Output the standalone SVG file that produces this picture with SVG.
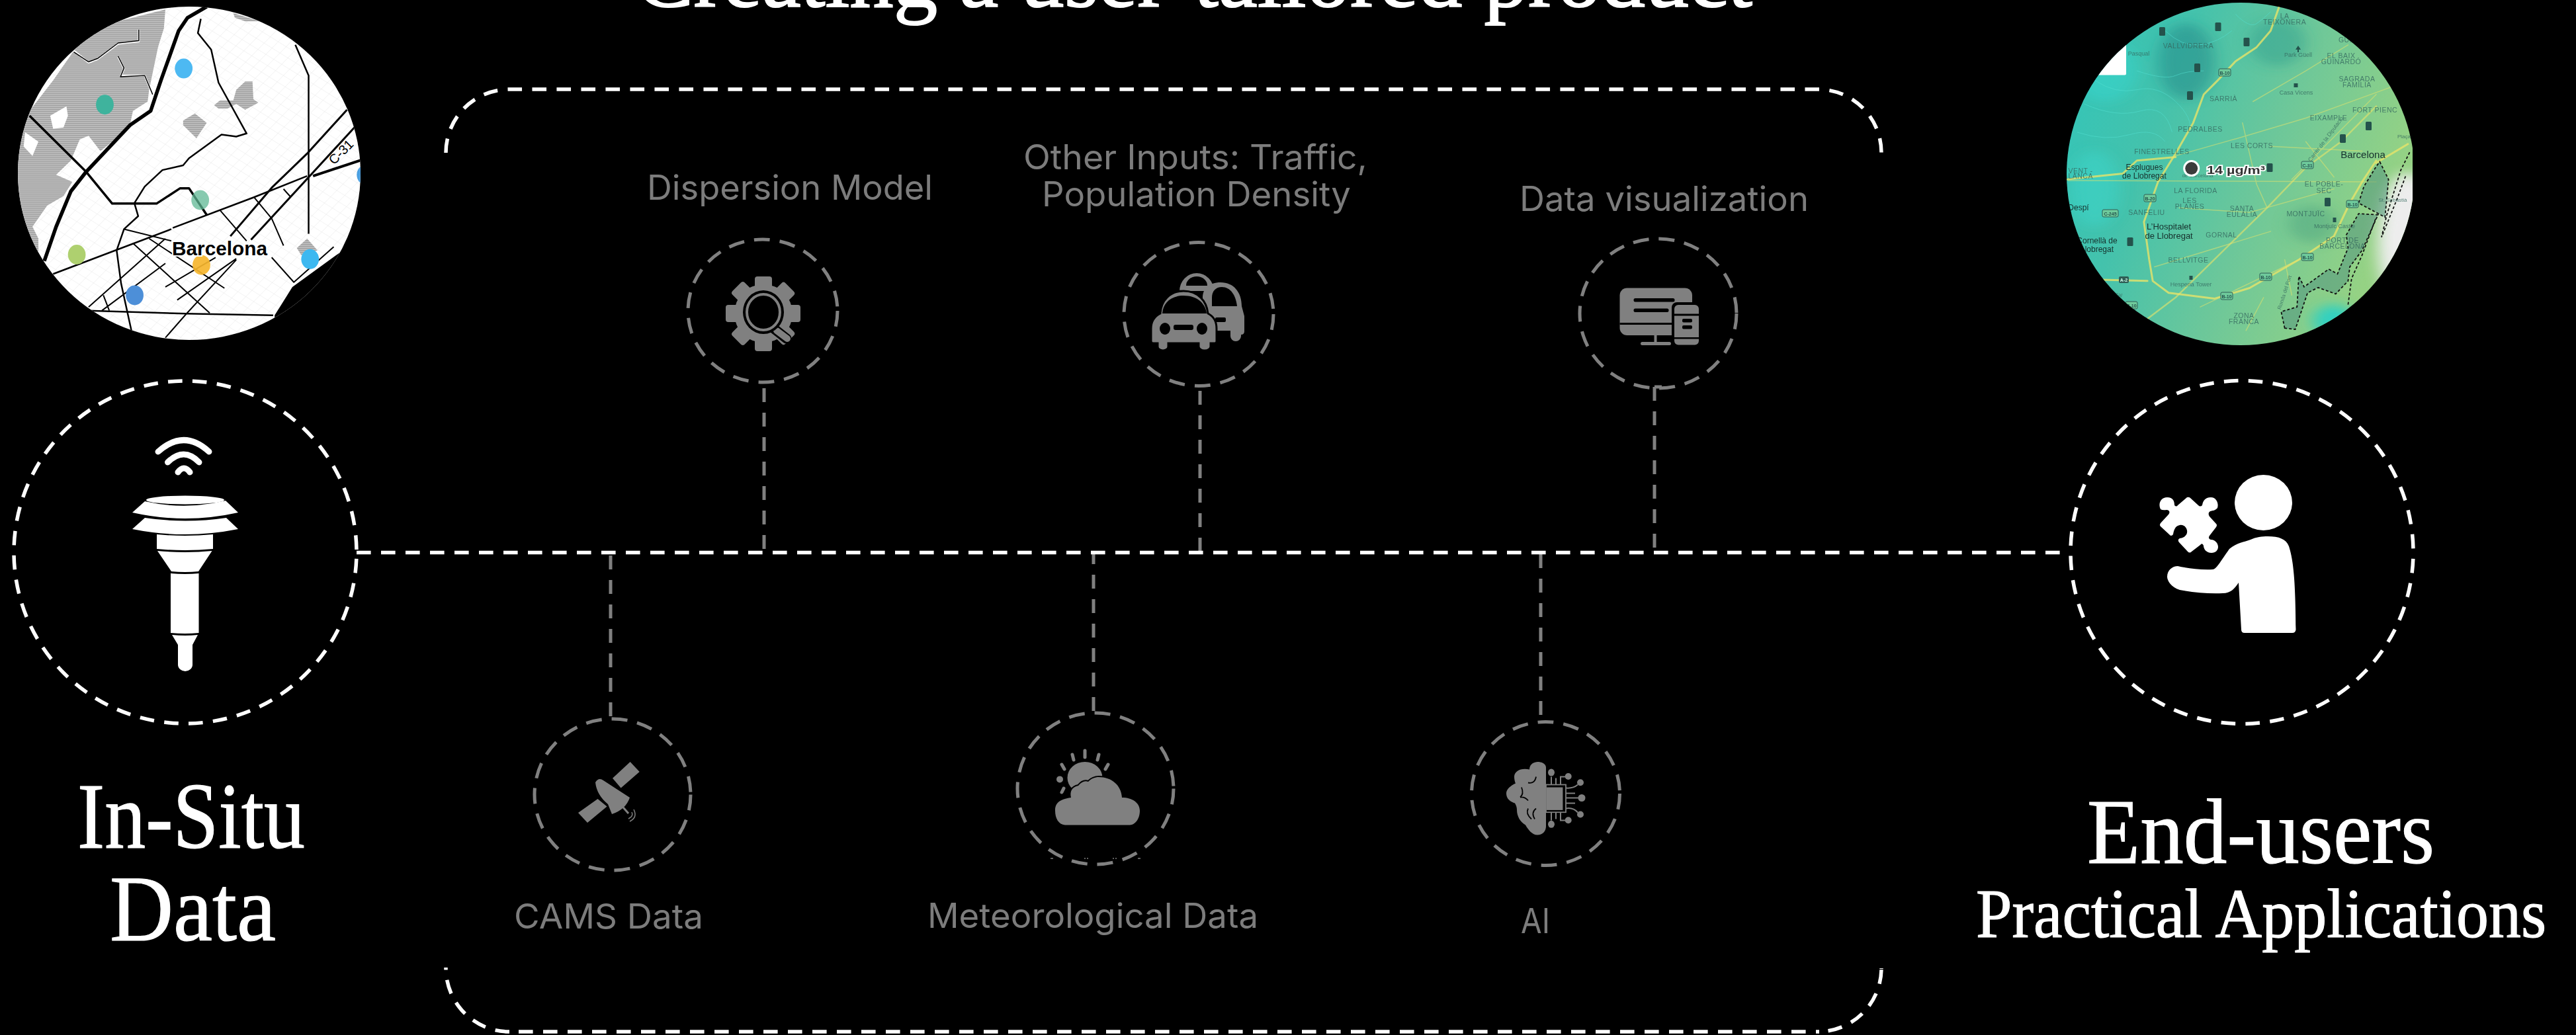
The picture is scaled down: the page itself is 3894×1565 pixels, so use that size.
<svg xmlns="http://www.w3.org/2000/svg" width="3894" height="1565" viewBox="0 0 3894 1565">
<style>
.w{fill:none;stroke:#fff;stroke-width:5.5;stroke-dasharray:21.6 15.4}
.g{fill:none;stroke:#808080;stroke-width:5;stroke-dasharray:24 15}
.gv{fill:none;stroke:#808080;stroke-width:5;stroke-dasharray:21 16}
.i{fill:#808080}
.k{fill:#000}
.lab{font-family:"Inter","Liberation Sans",sans-serif;font-weight:400;fill:#7c7c7c;font-size:52px}
.ser{font-family:"Liberation Serif",serif;fill:#fff;stroke:#fff;stroke-width:1.2}
.r{fill:none;stroke:#000;vector-effect:non-scaling-stroke;stroke-linejoin:round}
.y{fill:none;stroke:#e8e46a;vector-effect:non-scaling-stroke;stroke-linecap:round;stroke-linejoin:round}
.c{fill:none;stroke:#55e0d2;stroke-width:1;opacity:.55;vector-effect:non-scaling-stroke}
.m{font-family:"Liberation Sans",sans-serif;font-size:10.5px;fill:#35685f;letter-spacing:.5px;text-anchor:middle;opacity:.8}
.d{font-family:"Liberation Sans",sans-serif;font-size:13px;fill:#16302c;text-anchor:middle}
.b{fill:#24524c}
.sg{fill:#6fcb9c;stroke:#2e5d55;stroke-width:1}
.st{font-family:"Liberation Sans",sans-serif;font-size:7px;fill:#24524c;text-anchor:middle;font-weight:bold}
</style>
<defs>
<clipPath id="lc"><ellipse cx="286" cy="262" rx="259" ry="252"/></clipPath>
<clipPath id="rc"><ellipse cx="3387" cy="263" rx="263" ry="259"/></clipPath>
<clipPath id="rr"><rect x="3100" y="0" width="547" height="540"/></clipPath>
<pattern id="hatch" patternUnits="userSpaceOnUse" width="3" height="3" patternTransform="scale(2.24 2.8)"><rect width="3" height="3" fill="#c2c2c2"/><rect width="3" height="1.500" fill="#a0a0a0"/></pattern>
<pattern id="mesh" patternUnits="userSpaceOnUse" width="34" height="34" patternTransform="rotate(38)"><path d="M0 0H34M0 0V34" stroke="#dedede" stroke-width="1.6" fill="none"/></pattern>
<linearGradient id="tg" x1="0" y1="0" x2="1" y2="0.35"><stop offset="0" stop-color="#2fc6bc"/><stop offset=".35" stop-color="#44c2ac"/><stop offset=".65" stop-color="#6cc79a"/><stop offset="1" stop-color="#95d284"/></linearGradient>
<filter id="bl" x="-50%" y="-50%" width="200%" height="200%"><feGaussianBlur stdDeviation="22"/></filter>
</defs>
<rect width="3894" height="1565" fill="#000"/>

<g id="connectors">
<path class="gv" d="M1155 587V835"/>
<path class="gv" d="M1814 591V835"/>
<path class="gv" d="M2501 585V835"/>
<path class="gv" d="M2501 585H2512"/>
<path class="gv" d="M923 1083V835"/>
<path class="gv" d="M1653 1075V835"/>
<path class="gv" d="M2329 1081V835"/>
<path class="w" d="M539 835.5H3128"/>
</g>

<g id="frame">
<path class="w" d="M674 231A96 96 0 0 1 770 135H2748A96 96 0 0 1 2844 231"/>
<path class="w" d="M770 1560A96 96 0 0 1 674 1464V1463"/>
<path class="w" d="M784 1560H2750"/>
<path class="w" style="stroke-dashoffset:21.4" d="M2748 1560A96 96 0 0 0 2844 1464"/>
<path class="w" style="stroke-dasharray:none" d="M2844 1464V1465"/>
</g>

<text id="title" class="ser" x="960" y="10" font-size="132" textLength="1689" lengthAdjust="spacingAndGlyphs" style="stroke-width:2">Creating a user-tailored product</text>

<g id="map-left" clip-path="url(#lc)">
<rect x="20" y="0" width="530" height="520" fill="#fff"/>
<g transform="scale(.44643 .35714)">
<rect x="40" y="0" width="1200" height="1460" fill="url(#mesh)"/>
<path fill="url(#hatch)" d="M250 215L300 150L400 90L560 40L555 120L535 200L505 380L500 430L450 470L440 530L380 600L340 640L300 575L270 590L240 680L190 740L245 770L215 830L160 870L110 960L130 1010L130 1100L60 1000L50 700L60 560L100 470L180 340Z"/>
<path fill="#fff" d="M170 490L225 450L230 490L215 540L180 545Z"/>
<path fill="#fff" d="M85 560L130 600L110 660L80 620Z"/>
<path fill="url(#hatch)" d="M800 380L830 345L855 345L858 420L875 435L830 465L800 440L770 460L740 460L725 445L745 425L790 425Z"/>
<path fill="url(#hatch)" d="M620 510L660 480L700 520L665 585L620 530Z"/>
<path fill="url(#hatch)" d="M790 55L880 90L830 90L795 75Z"/>
<path fill="url(#hatch)" d="M1005 1050L1040 1010L1075 1060L1020 1080Z"/>
<path class="r" stroke-width="3" style="stroke:#fff" d="M250 215L300 265L330 250L400 185L470 175L470 125M400 240L420 290L410 320L490 320L515 395"/>
<path class="r" stroke-width="1.5" d="M250 220L300 262L330 248L400 182L470 172L470 125M400 238L420 288L408 325L490 320L517 400"/>
<path class="r" stroke-width="5.5" d="M700 28L635 75L605 130L545 340L510 470L440 530L380 610L290 730L240 810L190 960L150 1105"/>
<path class="r" stroke-width="3.5" d="M100 490L290 725L380 862L530 862L610 797L640 797L700 910"/>
<path class="r" stroke-width="2.5" d="M680 80L670 140L715 210L740 350L835 565L800 578L750 570L640 670L620 700L550 720L490 790L455 860L468 915L420 970L395 1060L410 1200L445 1400"/>
<path class="r" stroke-width="2.5" d="M180 1160L580 970M585 965L860 835L1040 745"/>
<path class="r" stroke-width="4" d="M1060 745L1230 675"/>
<path class="r" stroke-width="2.5" d="M1000 190L1045 320L1045 990"/>
<path class="r" stroke-width="3" d="M1175 465L1040 650L920 795L780 1000M1200 540L1060 730L850 1015"/>
<path class="r" stroke-width="2.5" d="M300 1315L630 1328L925 1335"/>
<path class="r" stroke-width="2" d="M300 1300L560 1010M345 1315L560 1115M860 835L920 925L960 1040M745 890L835 1020M920 1090L995 1195L1130 1045M450 1030L710 1325M505 1010L760 1220M420 970L580 1020M560 1215L730 1090M600 1270L800 1095M560 1430L630 1330L800 1100M960 800L985 835M350 1250L370 1315"/>
<path d="M1150 1070L1150 1460L930 1460L930 1335L990 1215Z" fill="#000"/>
<ellipse cx="622" cy="290" rx="30" ry="42" fill="#4db9f2"/>
<ellipse cx="355" cy="443" rx="30" ry="42" fill="#3fb39d"/>
<ellipse cx="678" cy="847" rx="30" ry="42" fill="#5fb894" opacity=".75"/>
<ellipse cx="260" cy="1078" rx="30" ry="42" fill="#aed06f"/>
<ellipse cx="682" cy="1122" rx="30" ry="42" fill="#f5b52e" opacity=".92"/>
<ellipse cx="456" cy="1250" rx="30" ry="42" fill="#4d8fd8"/>
<ellipse cx="1050" cy="1097" rx="30" ry="42" fill="#3db8f0"/>
<ellipse cx="1238" cy="740" rx="30" ry="42" fill="#4a9fe0"/>
</g>
<text x="260" y="385.7" font-family="Liberation Sans,sans-serif" font-weight="bold" font-size="30" fill="#000" stroke="#fff" stroke-width="4" paint-order="stroke" textLength="144" lengthAdjust="spacingAndGlyphs">Barcelona</text>
<text x="0" y="0" transform="translate(505 250) rotate(-45)" font-family="Liberation Sans,sans-serif" font-size="20" fill="#000">C-31</text>
</g>

<g id="node-insitu">
<ellipse class="w" cx="280" cy="835" rx="259" ry="259" style="stroke-dashoffset:-10"/>
<path d="M239 683Q278 648 316 683M253.500 699Q278 675 301 699M269 714Q278 702 287 714" fill="none" stroke="#fff" stroke-width="9" stroke-linecap="round"/>
<ellipse cx="280" cy="756" rx="59" ry="6.500" fill="#fff"/>
<path fill="#fff" d="M219 758L200 775Q280 793 360 775L341 757Q280 772 219 758Z"/>
<path fill="#fff" d="M219 783L200 800Q280 816 360 800L342 783Q280 792 219 783Z"/>
<path fill="#fff" d="M237 808Q280 812 322 808V830Q280 834 237 830Z"/>
<path fill="#fff" d="M238 833Q280 837 320.500 833L300 864Q280 866 259 864Z"/>
<path fill="#fff" d="M258 867Q280 869 300.500 867V957Q280 959 258 957Z"/>
<path fill="#fff" d="M260 960Q280 962 299 960L291 975V1005A11 10 0 0 1 269 1005V975Z"/>
</g>
<g id="label-insitu">
<text class="ser" x="117" y="1282" font-size="142" textLength="344" lengthAdjust="spacingAndGlyphs">In-Situ</text>
<text class="ser" x="166" y="1422" font-size="142" textLength="251" lengthAdjust="spacingAndGlyphs">Data</text>
</g>

<g id="node-dispersion">
<ellipse class="g" cx="1153" cy="470" rx="113" ry="108"/>
<g class="i">
<circle cx="1154" cy="474" r="44"/>
<rect x="1141" y="418" width="26" height="113" rx="4"/>
<rect x="1141" y="418" width="26" height="113" rx="4" transform="rotate(45 1154 474)"/>
<rect x="1141" y="418" width="26" height="113" rx="4" transform="rotate(90 1154 474)"/>
<rect x="1141" y="418" width="26" height="113" rx="4" transform="rotate(135 1154 474)"/>
</g>
<path d="M1170 497L1189 512" stroke="#000" stroke-width="15" stroke-linecap="round"/>
<path d="M1174 500L1190 512" stroke="#808080" stroke-width="10" stroke-linecap="round"/>
<ellipse cx="1154" cy="472" rx="31" ry="33" fill="#000"/>
<ellipse cx="1154" cy="472" rx="25" ry="27" fill="none" stroke="#808080" stroke-width="4"/>
<text class="lab" x="978" y="301.500" textLength="432" lengthAdjust="spacingAndGlyphs">Dispersion Model</text>
</g>

<g id="node-traffic">
<ellipse class="g" cx="1812" cy="475" rx="113" ry="108.500"/>
<path class="i" d="M1783 440A26 27 0 0 1 1835 440Z"/>
<path d="M1793 432A16 14 0 0 1 1825 432Z" class="k"/>
<path class="i" d="M1818 470V450C1818 436 1828 427 1845 427C1865 427 1877 442 1877 463L1881 478V501Q1881 506 1876 506V508A8 8 0 0 1 1860 508V500H1818Z"/>
<path class="k" d="M1832 463V450C1832 440 1838 434 1847 434C1860 434 1868 446 1870 463Z"/>
<rect class="k" x="1837" y="480" width="16" height="7" rx="2"/>
<path class="i" stroke="#000" stroke-width="3" d="M1754 474C1755 455 1768 440 1789 440C1811 440 1824 455 1826 474C1834 478 1839 486 1839 497V516Q1839 519 1836 519H1830V524A9 6 0 0 1 1812 524V519H1766V524A8 6 0 0 1 1750 524V519H1744Q1740 519 1740 516V497C1740 486 1746 478 1754 474Z"/>
<path class="k" d="M1757 474C1758 458 1770 447 1789 447C1809 447 1822 458 1824 474Z"/>
<ellipse class="k" cx="1761" cy="497" rx="8" ry="9"/>
<ellipse class="k" cx="1817" cy="497" rx="8" ry="9"/>
<rect class="k" x="1774" y="491" width="30" height="8" rx="3"/>
<text class="lab" x="1547" y="256" textLength="520" lengthAdjust="spacingAndGlyphs">Other Inputs: Traffic,</text>
<text class="lab" x="1575" y="312" textLength="467" lengthAdjust="spacingAndGlyphs">Population Density</text>
</g>

<g id="node-dataviz">
<ellipse class="g" cx="2506.500" cy="474" rx="118.500" ry="113"/>
<rect class="i" x="2448.500" y="435.500" width="109.500" height="71.500" rx="11"/>
<rect class="k" x="2469.500" y="451" width="62" height="5.500" rx="2.500"/>
<rect class="k" x="2469.500" y="466.500" width="53" height="5.500" rx="2.500"/>
<rect class="k" x="2448.500" y="488" width="110" height="3"/>
<rect class="i" x="2500.500" y="507" width="4" height="12"/>
<rect class="i" x="2480" y="517" width="46" height="5" rx="2.500"/>
<rect class="k" x="2527" y="457" width="46" height="70" rx="8"/>
<rect class="i" x="2531" y="461" width="37" height="60.500" rx="6"/>
<rect class="k" x="2531" y="474.500" width="37" height="3"/>
<rect class="k" x="2531" y="510" width="37" height="2.500"/>
<rect class="k" x="2543" y="482" width="15" height="5.500" rx="2"/>
<rect class="k" x="2543" y="492" width="15" height="5.500" rx="2"/>
<text class="lab" x="2297" y="319" textLength="437" lengthAdjust="spacingAndGlyphs">Data visualization</text>
</g>

<g id="node-cams">
<ellipse class="g" cx="926" cy="1201.500" rx="118" ry="114.500"/>
<g transform="translate(0 2)">
<path class="i" d="M952.600 1150L966.700 1165L938.600 1189.600L926 1174.800Z"/>
<path class="i" d="M903.500 1206L874 1227L888 1242L917.500 1217.500Z"/>
<path class="i" d="M900 1181Q905 1173 912 1178L952 1204Q946 1222 925 1229L919 1214Q902 1200 900 1181Z"/>
<path d="M936 1212L950 1228" stroke="#808080" stroke-width="3"/>
<path d="M958 1222Q964 1234 952 1240M955 1226Q958 1232 950 1236" fill="none" stroke="#808080" stroke-width="1.500"/>
</g>
<text class="lab" x="777" y="1404" textLength="286" lengthAdjust="spacingAndGlyphs">CAMS Data</text>
</g>

<g id="node-meteo">
<ellipse class="g" cx="1656" cy="1192.500" rx="118" ry="114.500"/>
<g transform="translate(0 2)">
<ellipse class="i" cx="1640" cy="1174" rx="26.500" ry="24"/>
<path d="M1640 1133V1143M1621 1139L1623 1147M1661 1139L1659 1147M1605 1154L1609 1161M1675 1154L1671 1161M1605 1196L1608 1190" stroke="#808080" stroke-width="5" stroke-linecap="round"/>
<circle class="i" cx="1602" cy="1176.400" r="5"/>
<path class="i" stroke="#000" stroke-width="4" paint-order="stroke" d="M1610 1245.400C1600 1245 1595 1235 1595 1224C1595 1213 1600 1207 1619 1204C1617 1195 1620 1188 1630 1186C1635 1180 1640 1178 1645 1180C1650 1175 1655 1173 1661 1173C1680 1173 1695 1185 1696 1204C1712 1204 1723 1212 1723 1224C1723 1236 1716 1245.400 1708 1245.400Z"/>
</g>
<path d="M1588 1298h4M1639 1298h2M1643 1298h2M1682 1298h2M1686 1298h2M1720 1298h4" stroke="#808080" stroke-width="1.500"/>
<text class="lab" x="1402" y="1403" textLength="500" lengthAdjust="spacingAndGlyphs">Meteorological Data</text>
</g>

<g id="node-ai">
<ellipse class="g" cx="2336.500" cy="1200" rx="112" ry="108.500"/>
<g transform="translate(0 2.500)">
<path class="i" d="M2337 1158C2337 1152 2330 1149.500 2324 1149.500C2316 1150 2312 1155 2312 1161C2300 1158 2289 1163 2289 1172C2289 1176 2290 1180 2291 1182C2282 1186 2277 1192 2277 1197C2277 1204 2281 1209 2290 1212C2292 1215 2293 1219 2293 1222C2293 1232 2298 1240 2306 1245C2310 1252 2316 1260 2324 1260C2332 1260 2337 1254 2337 1247Z"/>
<path d="M2310 1181Q2320 1183 2322 1172M2300 1188Q2304 1198 2298 1203M2298 1203Q2305 1202 2310 1208M2310 1220Q2306 1228 2315 1236M2322 1220Q2314 1226 2320 1236" fill="none" stroke="#000" stroke-width="1.800"/>
<rect class="i" x="2338" y="1188" width="24.400" height="34.400"/>
<rect x="2337" y="1184" width="30" height="41.700" fill="none" stroke="#808080" stroke-width="1.800"/>
<path d="M2345 1172V1184M2352 1174V1184M2359 1184V1172H2366M2367 1189Q2378 1190 2385 1184M2367 1197H2381M2367 1204H2388M2367 1212H2381M2367 1220Q2378 1218 2385 1226M2345 1238V1226M2352 1236V1226M2359 1226V1238H2366" fill="none" stroke="#808080" stroke-width="2"/>
<g class="i"><ellipse cx="2389" cy="1180.700" rx="5" ry="5"/><ellipse cx="2391" cy="1204" rx="5.500" ry="5.500"/><ellipse cx="2389" cy="1229" rx="5" ry="5"/><ellipse cx="2345" cy="1165.600" rx="5" ry="5.500"/><ellipse cx="2370.700" cy="1171.500" rx="5" ry="5"/><ellipse cx="2345" cy="1243.800" rx="5" ry="5.500"/><ellipse cx="2370.700" cy="1237.800" rx="5" ry="5"/></g>
</g>
<text class="lab" x="2299" y="1411" textLength="44" lengthAdjust="spacingAndGlyphs">AI</text>
</g>

<g id="node-endusers">
<ellipse class="w" cx="3389" cy="835" rx="259" ry="259.500" style="stroke-dashoffset:-10"/>
<ellipse cx="3421.500" cy="760" rx="43.500" ry="42" fill="#fff"/>
<path fill="#fff" d="M3402 816C3410 812 3420 811 3428 811C3445 811 3456 815 3460 826C3466 845 3470 870 3470.500 952Q3470 957 3465 957H3393Q3388 957 3388 952L3384 881C3378 890 3372 897 3360 897C3340 898 3315 896 3295 892C3282 888 3276 878 3276 872C3276 862 3284 856 3292 856C3305 859 3325 862 3345 861C3350 861 3356 850 3370 830C3382 820 3392 820 3402 816Z"/>
<path fill="#fff" d="M3266 770C3262 762 3266 752 3276 752C3285 752 3287 758 3287 764Q3290 767 3292 764L3306 752Q3309 751 3311 753L3323 764Q3326 767 3329 764C3330 758 3333 752 3342 752C3351 752 3354 762 3352 768C3349 772 3345 772 3341 773C3338 775 3338 778 3340 781L3350 792Q3352 794 3350 797L3340 810C3338 813 3339 815 3342 816C3349 816 3353 822 3353 827C3353 832 3349 836 3343 836C3335 836 3331 830 3331 825Q3329 820 3326 824L3313 834Q3310 837 3307 834L3294 820Q3291 816 3295 814C3304 813 3307 807 3306 802C3305 796 3300 793 3295 794C3288 795 3286 802 3285 808Q3282 812 3279 808L3266 796Q3264 794 3266 791L3278 778C3281 774 3279 771 3275 771Q3269 772 3266 770Z"/>
</g>
<g id="label-endusers">
<text class="ser" x="3155" y="1305" font-size="140" textLength="525" lengthAdjust="spacingAndGlyphs">End-users</text>
<text class="ser" x="2987" y="1417" font-size="105" textLength="862" lengthAdjust="spacingAndGlyphs">Practical Applications</text>
</g>

<g id="map-right" clip-path="url(#rr)"><g clip-path="url(#rc)">
<rect x="3110" y="0" width="550" height="530" fill="url(#tg)"/>
<g transform="translate(3060 0) scale(.532 .357)">
<g filter="url(#bl)">
<ellipse cx="460" cy="260" rx="80" ry="160" fill="#27908c" opacity=".6"/>
<ellipse cx="720" cy="180" rx="80" ry="100" fill="#31a090" opacity=".5"/>
<ellipse cx="230" cy="300" rx="90" ry="130" fill="#35d8cf" opacity=".5"/>
<ellipse cx="200" cy="800" rx="70" ry="160" fill="#3ed8cc" opacity=".5"/>
<ellipse cx="820" cy="950" rx="70" ry="80" fill="#3f9a7e" opacity=".4"/>
<ellipse cx="880" cy="1360" rx="60" ry="70" fill="#30d0c0"/>
<ellipse cx="1090" cy="1030" rx="85" ry="300" fill="#ededed"/>
</g>
<path class="c" d="M200 340Q260 400 320 380T430 430T470 560M170 440Q260 500 330 470T420 560M320 300Q400 340 430 320T510 300M400 130Q450 200 500 190T590 130M150 560Q230 600 300 570T400 600M600 60Q640 120 660 100T700 50"/>
<g opacity=".5">
<path class="y" stroke-width="1.500" d="M125 765L1000 770M430 660L620 580L800 500L1040 370M620 520L660 780L690 880M650 430L800 300L920 190M760 760L1000 400M440 880L640 900L880 800M370 1130L700 980M500 1300L780 1100M740 1100L760 1250M630 1400L680 1260M700 620L960 640M800 600L880 750"/>
</g>
<path class="y" stroke-width="3" opacity=".8" d="M725 25L700 130L660 200L600 260L550 340L510 400L480 520L430 650L380 770L340 940L355 1100L365 1190L410 1240L540 1265L640 1220L780 1100L880 1000L925 860L960 770L1000 680"/>
<path class="y" stroke-width="3" opacity=".8" d="M120 760L280 735L320 680L430 665"/>
<path class="y" stroke-width="2.500" opacity=".6" d="M350 1350L430 1260L690 880L800 710L900 600L1000 450"/>
<path class="y" stroke-width="3" opacity=".8" d="M220 1185L350 1190M1000 690L1090 610"/>
<path d="M740 1390L730 1320L775 1300L780 1170L795 1215L865 1140L890 1160L920 1050L915 995L950 905L1005 910L960 1060L925 1130L920 1190L885 1245L835 1218L805 1240L770 1395Z" fill="#4e8f7c" fill-opacity=".5" stroke="#111" stroke-width="1.800" stroke-dasharray="4 3" vector-effect="non-scaling-stroke"/>
<path d="M1010 685L1035 760L1025 920L1000 900L950 860L965 790L1000 705Z" fill="#4e8f7c" fill-opacity=".5" stroke="#111" stroke-width="1.800" stroke-dasharray="4 3" vector-effect="non-scaling-stroke"/>
<path d="M1095 645L1070 720L1030 910L1015 1005L1060 840L1085 740M920 1290L930 1180L960 1080L1000 920" fill="none" stroke="#111" stroke-width="1.800" stroke-dasharray="4 3" vector-effect="non-scaling-stroke"/>
</g>
<rect x="3150" y="64" width="64" height="49.500" rx="2" fill="#fff"/>
<g class="b">
<rect x="3264" y="41" width="9" height="13" rx="1.500"/><rect x="3348.500" y="34" width="9" height="13" rx="1.500"/><rect x="3391.500" y="57" width="9" height="13" rx="1.500"/><rect x="3317" y="96" width="9" height="13" rx="1.500"/><rect x="3306" y="138" width="9" height="13" rx="1.500"/><rect x="3576" y="184" width="9" height="13" rx="1.500"/><rect x="3537" y="203" width="9" height="13" rx="1.500"/><rect x="3426.500" y="247" width="9" height="13" rx="1.500"/><rect x="3514" y="299" width="9" height="13" rx="1.500"/><rect x="3215.500" y="359" width="9" height="13" rx="1.500"/>
<path d="M3474 69l-4 6h3v4h2v-4h3z"/><rect x="3467.500" y="126" width="6" height="6"/><rect x="3526.500" y="329" width="5" height="7"/><rect x="3309.500" y="417" width="5" height="6"/>
</g>
<g>
<rect class="sg" x="3354" y="104" width="18" height="11" rx="2"/><rect class="sg" x="3547" y="303" width="18" height="11" rx="2"/><rect class="sg" x="3479" y="383" width="18" height="11" rx="2"/><rect class="sg" x="3416" y="413" width="18" height="11" rx="2"/><rect class="sg" x="3357" y="442" width="18" height="11" rx="2"/><rect class="sg" x="3213" y="456" width="18" height="11" rx="2"/><rect class="sg" x="3241" y="294" width="18" height="11" rx="2"/><rect class="sg" x="3178" y="317" width="24" height="11" rx="2"/><rect class="sg" x="3479" y="244" width="18" height="11" rx="2"/><rect x="3203" y="418" width="15" height="10" rx="2" fill="#2f5d55"/>
<text class="st" x="3363" y="112.500">B-10</text><text class="st" x="3556" y="311.500">B-10</text><text class="st" x="3488" y="391.500">B-10</text><text class="st" x="3425" y="421.500">B-10</text><text class="st" x="3366" y="450.500">B-10</text><text class="st" x="3222" y="464.500">B-10</text><text class="st" x="3250" y="302.500">B-20</text><text class="st" x="3190" y="325.500">C-245</text><text class="st" x="3488" y="252.500">C-31</text><text class="st" x="3210.500" y="425.500" style="fill:#cfe">A-2</text>
</g>
<text class="m" x="3453.600" y="28">LA</text><text class="m" x="3453.600" y="37">TEIXONERA</text>
<text class="m" x="3308" y="73">VALLVIDRERA</text>
<text class="m" x="3545" y="64">GUI</text>
<text class="m" x="3539" y="87.500">EL BAIX</text><text class="m" x="3539" y="96.500">GUINARDÓ</text>
<text class="m" x="3563" y="123">SAGRADA</text><text class="m" x="3563" y="131.500">FAMÍLIA</text>
<text class="m" x="3361" y="152.500">SARRIÀ</text>
<text class="m" x="3590" y="170">FORT PIENC</text>
<text class="m" x="3520" y="182">EIXAMPLE</text>
<text class="m" x="3326" y="199">PEDRALBES</text>
<text class="m" x="3404" y="224">LES CORTS</text>
<text class="m" x="3268" y="233">FINESTRELLES</text>
<text class="m" x="3319" y="292">LA FLORIDA</text>
<text class="m" x="3310" y="307">LES</text><text class="m" x="3310" y="316">PLANES</text>
<text class="m" x="3389" y="319">SANTA</text><text class="m" x="3389" y="327.500">EULÀLIA</text>
<text class="m" x="3513" y="282">EL POBLE-</text><text class="m" x="3513" y="292">SEC</text>
<text class="m" x="3485.500" y="327">MONTJUÏC</text>
<text class="m" x="3245" y="325">SANFELIU</text>
<text class="m" x="3358" y="359">GORNAL</text>
<text class="m" x="3541" y="367">PORT DE</text><text class="m" x="3541" y="376">BARCELONA</text>
<text class="m" x="3308" y="397">BELLVITGE</text>
<text class="m" x="3392" y="481">ZONA</text><text class="m" x="3392" y="490">FRANCA</text>
<text class="m" x="3145" y="262">VENT -</text><text class="m" x="3142" y="270">LLANCA</text>
<g style="font-size:9px;letter-spacing:0">
<text class="m" style="font-size:9px;letter-spacing:0" x="3233" y="84">Pasqual</text>
<text class="m" style="font-size:9px;letter-spacing:0" x="3474" y="86">Park Güell</text>
<text class="m" style="font-size:9px;letter-spacing:0" x="3471" y="143">Casa Vicens</text>
<text class="m" style="font-size:9px;letter-spacing:0" x="3529" y="345">Montjuïc Castle</text>
<text class="m" style="font-size:9px;letter-spacing:0" x="3312" y="433">Hesperia Tower</text>
<text class="m" style="font-size:8px;letter-spacing:0" x="3617" y="305">St. Sebastià</text>
<text class="m" style="font-size:8px;letter-spacing:0" x="3322" y="268">de Barcelona</text>
<text class="m" style="font-size:8px;letter-spacing:0" x="3634" y="209">Plaça</text>
<text class="m" style="font-size:8px;letter-spacing:0" x="3190" y="445" transform="rotate(15 3190 445)">Riu Sorral</text>
<text class="m" style="font-size:8px;letter-spacing:0" transform="translate(3456 443) rotate(-72)" x="0" y="0">Ronda del Port</text>
<text class="m" style="font-size:8.500px;letter-spacing:0" transform="translate(3518 212) rotate(-53)" x="0" y="0">Carrer de la Diputació</text>
</g>
<text class="d" style="font-size:15px" x="3572" y="238.500">Barcelona</text>
<text class="d" style="font-size:12px" x="3241.400" y="257">Esplugues</text><text class="d" style="font-size:12px" x="3241.400" y="269.600">de Llobregat</text>
<text class="d" style="font-size:12px" x="3142" y="318">Despí</text>
<text class="d" x="3278.600" y="347">L’Hospitalet</text><text class="d" x="3278.600" y="361">de Llobregat</text>
<text class="d" style="font-size:12px" x="3170" y="368">Cornellà de</text><text class="d" style="font-size:12px" x="3170" y="381">Llobregat</text>
<ellipse cx="3312.700" cy="254.600" rx="12.500" ry="12.500" fill="#fff"/>
<ellipse cx="3312.700" cy="254.600" rx="9.500" ry="9.500" fill="#3b3b3b"/>
<text x="3336" y="262.500" font-family="Liberation Sans,sans-serif" font-weight="bold" font-size="17" fill="#333" stroke="#fff" stroke-width="3.500" paint-order="stroke" textLength="88" lengthAdjust="spacingAndGlyphs">14 µg/m³</text>
</g></g>
</svg>
